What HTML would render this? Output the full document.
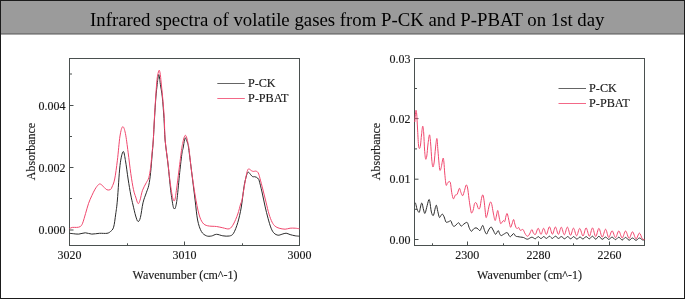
<!DOCTYPE html>
<html><head><meta charset="utf-8"><style>
html,body{margin:0;padding:0;background:#fff;}
body{width:685px;height:299px;overflow:hidden;position:relative;}
.frame{position:absolute;left:0;top:0;width:683px;height:297px;border:1px solid #1b1b1b;background:#fff;}
.hdr{position:absolute;left:0;top:0;width:683px;height:32px;background:#9b9b9b;border-bottom:1px solid #787878;box-shadow:0 1px 0 #a8a8a8;}
.hdr span{position:absolute;left:89.3px;top:2.8px;will-change:transform;font-family:"Liberation Serif", serif;font-size:18.8px;line-height:32px;color:#000;white-space:nowrap;}
svg{position:absolute;left:0;top:0;will-change:transform;}
svg text{font-family:"Liberation Serif", serif;font-size:12px;fill:#1a1a1a;stroke:#1a1a1a;stroke-width:0.15px;}
svg text.lg{font-size:12.2px;}
</style></head><body>
<div class="frame"><div class="hdr"><span>Infrared spectra of volatile gases from P-CK and P-PBAT on 1st day</span></div></div>
<svg width="685" height="299" viewBox="0 0 685 299">
<rect x="69.5" y="58.5" width="230.0" height="187.0" fill="none" stroke="#4a504f" stroke-width="1"/>
<line x1="69.5" y1="230" x2="73.5" y2="230" stroke="#4a504f" stroke-width="1"/>
<line x1="69.5" y1="167.5" x2="73.5" y2="167.5" stroke="#4a504f" stroke-width="1"/>
<line x1="69.5" y1="105.5" x2="73.5" y2="105.5" stroke="#4a504f" stroke-width="1"/>
<line x1="69.5" y1="198.5" x2="72.0" y2="198.5" stroke="#4a504f" stroke-width="1"/>
<line x1="69.5" y1="136.5" x2="72.0" y2="136.5" stroke="#4a504f" stroke-width="1"/>
<line x1="69.5" y1="74" x2="72.0" y2="74" stroke="#4a504f" stroke-width="1"/>
<line x1="69.5" y1="245.5" x2="69.5" y2="241.5" stroke="#4a504f" stroke-width="1"/>
<line x1="184.5" y1="245.5" x2="184.5" y2="241.5" stroke="#4a504f" stroke-width="1"/>
<line x1="299.5" y1="245.5" x2="299.5" y2="241.5" stroke="#4a504f" stroke-width="1"/>
<line x1="127.5" y1="245.5" x2="127.5" y2="243.3" stroke="#4a504f" stroke-width="1"/>
<line x1="242.5" y1="245.5" x2="242.5" y2="243.3" stroke="#4a504f" stroke-width="1"/>
<text x="65.5" y="234" text-anchor="end">0.000</text>
<text x="65.5" y="171.5" text-anchor="end">0.002</text>
<text x="65.5" y="109.5" text-anchor="end">0.004</text>
<text x="69.5" y="259.0" text-anchor="middle">3020</text>
<text x="184.5" y="259.0" text-anchor="middle">3010</text>
<text x="299.5" y="259.0" text-anchor="middle">3000</text>
<path d="M69.50 233.30 C70.13 233.37 71.75 233.57 73.30 233.70 C74.85 233.83 76.80 234.25 78.80 234.10 C80.80 233.95 83.13 232.80 85.30 232.80 C87.47 232.80 89.45 234.02 91.80 234.10 C94.15 234.18 96.87 233.43 99.40 233.30 C101.93 233.17 105.15 233.60 107.00 233.30 C108.85 233.00 109.40 232.52 110.50 231.50 C111.60 230.48 112.73 230.10 113.60 227.20 C114.47 224.30 115.07 218.63 115.70 214.10 C116.33 209.57 116.68 208.08 117.40 200.00 C118.12 191.92 119.05 173.67 120.00 165.60 C120.95 157.53 122.20 152.50 123.10 151.60 C124.00 150.70 124.57 155.63 125.40 160.20 C126.23 164.77 127.20 173.20 128.10 179.00 C129.00 184.80 129.98 190.67 130.80 195.00 C131.62 199.33 132.18 201.50 133.00 205.00 C133.82 208.50 134.87 213.25 135.70 216.00 C136.53 218.75 137.22 221.25 138.00 221.50 C138.78 221.75 139.57 220.62 140.40 217.50 C141.23 214.38 142.02 206.92 143.00 202.80 C143.98 198.68 145.33 195.73 146.30 192.80 C147.27 189.87 148.08 188.57 148.80 185.20 C149.52 181.83 150.05 177.63 150.60 172.60 C151.15 167.57 151.65 160.43 152.10 155.00 C152.55 149.57 152.90 146.08 153.30 140.00 C153.70 133.92 154.07 125.67 154.50 118.50 C154.93 111.33 155.45 102.67 155.90 97.00 C156.35 91.33 156.85 87.67 157.20 84.50 C157.55 81.33 157.73 79.67 158.00 78.00 C158.27 76.33 158.53 74.50 158.80 74.50 C159.07 74.50 159.33 76.33 159.60 78.00 C159.87 79.67 159.95 81.33 160.40 84.50 C160.85 87.67 161.70 91.33 162.30 97.00 C162.90 102.67 163.53 111.33 164.00 118.50 C164.47 125.67 164.42 132.25 165.10 140.00 C165.78 147.75 167.17 156.62 168.10 165.00 C169.03 173.38 169.85 183.37 170.70 190.30 C171.55 197.23 172.57 203.57 173.20 206.60 C173.83 209.63 174.12 208.35 174.50 208.50 C174.88 208.65 175.05 209.28 175.50 207.50 C175.95 205.72 176.50 203.62 177.20 197.80 C177.90 191.98 178.90 180.07 179.70 172.60 C180.50 165.13 181.45 156.98 182.00 153.00 C182.55 149.02 182.68 150.30 183.00 148.70 C183.32 147.10 183.63 144.93 183.90 143.40 C184.17 141.87 184.35 140.43 184.60 139.50 C184.85 138.57 185.07 137.63 185.40 137.80 C185.73 137.97 186.22 139.57 186.60 140.50 C186.98 141.43 187.35 142.03 187.70 143.40 C188.05 144.77 188.08 144.27 188.70 148.70 C189.32 153.13 190.33 161.45 191.40 170.00 C192.47 178.55 194.07 191.67 195.10 200.00 C196.13 208.33 196.55 214.75 197.60 220.00 C198.65 225.25 199.93 228.87 201.40 231.50 C202.87 234.13 204.72 235.05 206.40 235.80 C208.08 236.55 209.82 236.25 211.50 236.00 C213.18 235.75 214.62 234.33 216.50 234.30 C218.38 234.27 220.67 235.52 222.80 235.80 C224.93 236.08 227.52 236.42 229.30 236.00 C231.08 235.58 232.08 235.55 233.50 233.30 C234.92 231.05 236.50 226.88 237.80 222.50 C239.10 218.12 240.27 212.95 241.30 207.00 C242.33 201.05 243.22 191.73 244.00 186.80 C244.78 181.87 245.40 179.75 246.00 177.40 C246.60 175.05 247.15 173.55 247.60 172.70 C248.05 171.85 248.18 171.97 248.70 172.30 C249.22 172.63 250.03 173.97 250.70 174.70 C251.37 175.43 252.03 176.37 252.70 176.70 C253.37 177.03 254.03 176.58 254.70 176.70 C255.37 176.82 256.15 177.07 256.70 177.40 C257.25 177.73 257.62 178.27 258.00 178.70 C258.38 179.13 258.33 177.78 259.00 180.00 C259.67 182.22 261.00 187.65 262.00 192.00 C263.00 196.35 264.00 201.73 265.00 206.10 C266.00 210.47 266.98 214.52 268.00 218.20 C269.02 221.88 270.08 225.70 271.10 228.20 C272.12 230.70 272.93 232.03 274.10 233.20 C275.27 234.37 276.77 235.03 278.10 235.20 C279.43 235.37 280.77 234.53 282.10 234.20 C283.43 233.87 284.77 233.13 286.10 233.20 C287.43 233.27 288.58 234.17 290.10 234.60 C291.62 235.03 293.63 235.53 295.20 235.80 C296.77 236.07 298.78 236.13 299.50 236.20" fill="none" stroke="#2a2a2a" stroke-width="1"/>
<path d="M69.50 228.60 C69.97 228.40 71.12 227.60 72.30 227.40 C73.48 227.20 75.28 227.53 76.60 227.40 C77.92 227.27 79.20 227.30 80.20 226.60 C81.20 225.90 81.70 225.40 82.60 223.20 C83.50 221.00 84.60 216.72 85.60 213.40 C86.60 210.08 87.57 206.25 88.60 203.30 C89.63 200.35 90.72 198.07 91.80 195.70 C92.88 193.33 94.02 190.92 95.10 189.10 C96.18 187.28 97.40 185.63 98.30 184.80 C99.20 183.97 99.58 183.73 100.50 184.10 C101.42 184.47 102.72 186.05 103.80 187.00 C104.88 187.95 105.92 189.37 107.00 189.80 C108.08 190.23 109.47 190.07 110.30 189.60 C111.13 189.13 111.27 188.77 112.00 187.00 C112.73 185.23 113.80 183.47 114.70 179.00 C115.60 174.53 116.52 167.37 117.40 160.20 C118.28 153.03 119.12 141.58 120.00 136.00 C120.88 130.42 121.80 127.13 122.70 126.70 C123.60 126.27 124.50 129.15 125.40 133.40 C126.30 137.65 127.20 145.50 128.10 152.20 C129.00 158.90 129.90 167.35 130.80 173.60 C131.70 179.85 132.68 185.80 133.50 189.70 C134.32 193.60 134.95 194.70 135.70 197.00 C136.45 199.30 137.28 202.95 138.00 203.50 C138.72 204.05 139.25 202.50 140.00 200.30 C140.75 198.10 141.45 193.23 142.50 190.30 C143.55 187.37 145.25 184.80 146.30 182.70 C147.35 180.60 148.08 180.22 148.80 177.70 C149.52 175.18 150.05 171.78 150.60 167.60 C151.15 163.42 151.65 157.20 152.10 152.60 C152.55 148.00 152.92 145.68 153.30 140.00 C153.68 134.32 154.00 125.67 154.40 118.50 C154.80 111.33 155.30 103.08 155.70 97.00 C156.10 90.92 156.47 85.67 156.80 82.00 C157.13 78.33 157.30 76.97 157.70 75.00 C158.10 73.03 158.77 70.28 159.20 70.20 C159.63 70.12 159.98 72.53 160.30 74.50 C160.62 76.47 160.72 78.25 161.10 82.00 C161.48 85.75 162.07 90.92 162.60 97.00 C163.13 103.08 163.88 111.33 164.30 118.50 C164.72 125.67 164.55 133.08 165.10 140.00 C165.65 146.92 166.75 152.88 167.60 160.00 C168.45 167.12 169.35 176.40 170.20 182.70 C171.05 189.00 171.95 194.87 172.70 197.80 C173.45 200.73 174.08 201.55 174.70 200.30 C175.32 199.05 175.68 195.35 176.40 190.30 C177.12 185.25 178.12 176.93 179.00 170.00 C179.88 163.07 181.08 153.13 181.70 148.70 C182.32 144.27 182.32 145.22 182.70 143.40 C183.08 141.58 183.55 139.15 184.00 137.80 C184.45 136.45 184.93 135.27 185.40 135.30 C185.87 135.33 186.37 136.65 186.80 138.00 C187.23 139.35 187.63 141.62 188.00 143.40 C188.37 145.18 188.43 144.27 189.00 148.70 C189.57 153.13 190.38 162.28 191.40 170.00 C192.42 177.72 193.85 187.67 195.10 195.00 C196.35 202.33 197.63 209.37 198.90 214.00 C200.17 218.63 201.23 220.83 202.70 222.80 C204.17 224.77 205.40 225.18 207.70 225.80 C210.00 226.42 213.98 226.17 216.50 226.50 C219.02 226.83 220.67 227.42 222.80 227.80 C224.93 228.18 227.52 229.43 229.30 228.80 C231.08 228.17 232.08 226.47 233.50 224.00 C234.92 221.53 236.62 217.33 237.80 214.00 C238.98 210.67 239.90 206.33 240.60 204.00 C241.30 201.67 241.32 203.32 242.00 200.00 C242.68 196.68 243.92 188.53 244.70 184.10 C245.48 179.67 246.15 175.85 246.70 173.40 C247.25 170.95 247.55 170.12 248.00 169.40 C248.45 168.68 248.83 168.88 249.40 169.10 C249.97 169.32 250.73 170.32 251.40 170.70 C252.07 171.08 252.73 171.33 253.40 171.40 C254.07 171.47 254.73 171.03 255.40 171.10 C256.07 171.17 256.85 171.32 257.40 171.80 C257.95 172.28 258.27 172.88 258.70 174.00 C259.13 175.12 259.28 175.83 260.00 178.50 C260.72 181.17 262.00 186.07 263.00 190.00 C264.00 193.93 265.00 198.08 266.00 202.10 C267.00 206.12 267.98 210.75 269.00 214.10 C270.02 217.45 271.08 220.18 272.10 222.20 C273.12 224.22 273.93 225.20 275.10 226.20 C276.27 227.20 277.43 227.70 279.10 228.20 C280.77 228.70 283.27 229.20 285.10 229.20 C286.93 229.20 288.42 228.37 290.10 228.20 C291.78 228.03 293.63 228.10 295.20 228.20 C296.77 228.30 298.78 228.70 299.50 228.80" fill="none" stroke="#f0476d" stroke-width="1"/>
<line x1="217.3" y1="83.5" x2="244.8" y2="83.5" stroke="#2a2a2a" stroke-width="1" stroke-opacity="0.72"/><line x1="217.3" y1="98.5" x2="244.8" y2="98.5" stroke="#f0476d" stroke-width="1" stroke-opacity="0.82"/><text class="lg" x="247.9" y="86.9">P-CK</text><text class="lg" x="247.9" y="102.0">P-PBAT</text>
<text x="185" y="279" text-anchor="middle">Wavenumber (cm^-1)</text>
<text transform="translate(35.3 151.5) rotate(-90)" text-anchor="middle">Absorbance</text>
<rect x="414.5" y="58.5" width="230.0" height="187.0" fill="none" stroke="#4a504f" stroke-width="1"/>
<line x1="414.5" y1="239.5" x2="418.5" y2="239.5" stroke="#4a504f" stroke-width="1"/>
<line x1="414.5" y1="179.2" x2="418.5" y2="179.2" stroke="#4a504f" stroke-width="1"/>
<line x1="414.5" y1="118.6" x2="418.5" y2="118.6" stroke="#4a504f" stroke-width="1"/>
<line x1="414.5" y1="58.5" x2="418.5" y2="58.5" stroke="#4a504f" stroke-width="1"/>
<line x1="414.5" y1="209.3" x2="417.0" y2="209.3" stroke="#4a504f" stroke-width="1"/>
<line x1="414.5" y1="148.9" x2="417.0" y2="148.9" stroke="#4a504f" stroke-width="1"/>
<line x1="414.5" y1="88.5" x2="417.0" y2="88.5" stroke="#4a504f" stroke-width="1"/>
<line x1="467.5" y1="245.5" x2="467.5" y2="241.5" stroke="#4a504f" stroke-width="1"/>
<line x1="538.5" y1="245.5" x2="538.5" y2="241.5" stroke="#4a504f" stroke-width="1"/>
<line x1="609.5" y1="245.5" x2="609.5" y2="241.5" stroke="#4a504f" stroke-width="1"/>
<line x1="432.5" y1="245.5" x2="432.5" y2="243.3" stroke="#4a504f" stroke-width="1"/>
<line x1="503.5" y1="245.5" x2="503.5" y2="243.3" stroke="#4a504f" stroke-width="1"/>
<line x1="573.5" y1="245.5" x2="573.5" y2="243.3" stroke="#4a504f" stroke-width="1"/>
<text x="410.5" y="243.5" text-anchor="end">0.00</text>
<text x="410.5" y="183.2" text-anchor="end">0.01</text>
<text x="410.5" y="122.6" text-anchor="end">0.02</text>
<text x="410.5" y="62.5" text-anchor="end">0.03</text>
<text x="467.3" y="259.0" text-anchor="middle">2300</text>
<text x="538.5" y="259.0" text-anchor="middle">2280</text>
<text x="609.5" y="259.0" text-anchor="middle">2260</text>
<path d="M414.80 203.00 C414.93 203.07 415.25 202.45 415.60 203.40 C415.95 204.35 416.47 207.35 416.90 208.70 C417.33 210.05 417.78 210.93 418.20 211.50 C418.62 212.07 419.02 212.85 419.40 212.10 C419.78 211.35 420.17 208.45 420.50 207.00 C420.83 205.55 421.10 203.90 421.40 203.40 C421.70 202.90 421.93 202.88 422.30 204.00 C422.67 205.12 423.15 208.53 423.60 210.10 C424.05 211.67 424.48 213.85 425.00 213.40 C425.52 212.95 426.08 209.63 426.70 207.40 C427.32 205.17 428.18 201.00 428.70 200.00 C429.22 199.00 429.35 199.38 429.80 201.40 C430.25 203.42 430.80 209.77 431.40 212.10 C432.00 214.43 432.73 216.18 433.40 215.40 C434.07 214.62 434.88 209.07 435.40 207.40 C435.92 205.73 436.10 204.73 436.50 205.40 C436.90 206.07 437.32 209.40 437.80 211.40 C438.28 213.40 438.87 216.72 439.40 217.40 C439.93 218.08 440.50 216.05 441.00 215.50 C441.50 214.95 441.88 213.88 442.40 214.10 C442.92 214.32 443.52 215.50 444.10 216.80 C444.68 218.10 445.33 221.02 445.90 221.90 C446.47 222.78 446.97 222.17 447.50 222.10 C448.03 222.03 448.55 221.72 449.10 221.50 C449.65 221.28 450.18 220.13 450.80 220.80 C451.42 221.47 452.13 224.62 452.80 225.50 C453.47 226.38 454.13 226.33 454.80 226.10 C455.47 225.87 456.13 224.65 456.80 224.10 C457.47 223.55 458.08 222.47 458.80 222.80 C459.52 223.13 460.27 225.88 461.10 226.10 C461.93 226.32 462.90 224.72 463.80 224.10 C464.70 223.48 465.83 222.50 466.50 222.40 C467.17 222.30 467.30 222.48 467.80 223.50 C468.30 224.52 468.88 227.20 469.50 228.50 C470.12 229.80 470.83 231.22 471.50 231.30 C472.17 231.38 472.75 229.58 473.50 229.00 C474.25 228.42 475.25 227.80 476.00 227.80 C476.75 227.80 477.33 228.53 478.00 229.00 C478.67 229.47 479.42 230.85 480.00 230.60 C480.58 230.35 481.02 228.35 481.50 227.50 C481.98 226.65 482.38 224.98 482.90 225.50 C483.42 226.02 483.98 229.18 484.60 230.60 C485.22 232.02 485.93 234.10 486.60 234.00 C487.27 233.90 487.85 231.17 488.60 230.00 C489.35 228.83 490.35 227.00 491.10 227.00 C491.85 227.00 492.35 228.78 493.10 230.00 C493.85 231.22 494.77 234.20 495.60 234.30 C496.43 234.40 497.43 230.72 498.10 230.60 C498.77 230.48 499.10 232.77 499.60 233.60 C500.10 234.43 500.43 235.48 501.10 235.60 C501.77 235.72 502.60 234.80 503.60 234.30 C504.60 233.80 506.18 232.38 507.10 232.60 C508.02 232.82 508.52 234.93 509.10 235.60 C509.68 236.27 509.85 236.93 510.60 236.60 C511.35 236.27 512.77 233.68 513.60 233.60 C514.43 233.52 514.92 235.60 515.60 236.10 C516.28 236.60 516.85 236.43 517.70 236.60 C518.55 236.77 519.73 236.95 520.70 237.10 C521.67 237.25 522.38 237.15 523.50 237.50 C524.62 237.85 526.02 239.25 527.40 239.20 C528.78 239.15 530.48 237.27 531.80 237.20 C533.12 237.13 534.23 238.90 535.30 238.80 C536.37 238.70 537.25 236.63 538.20 236.60 C539.15 236.57 540.10 238.60 541.00 238.60 C541.90 238.60 542.67 236.63 543.60 236.60 C544.53 236.57 545.63 238.47 546.60 238.40 C547.57 238.33 548.43 236.20 549.40 236.20 C550.37 236.20 551.40 238.40 552.40 238.40 C553.40 238.40 554.38 236.20 555.40 236.20 C556.42 236.20 557.50 238.33 558.50 238.40 C559.50 238.47 560.38 236.53 561.40 236.60 C562.42 236.67 563.57 238.80 564.60 238.80 C565.63 238.80 566.58 236.60 567.60 236.60 C568.62 236.60 569.68 238.80 570.70 238.80 C571.72 238.80 572.67 236.53 573.70 236.60 C574.73 236.67 575.87 239.13 576.90 239.20 C577.93 239.27 578.88 237.03 579.90 237.00 C580.92 236.97 581.97 239.07 583.00 239.00 C584.03 238.93 585.03 236.63 586.10 236.60 C587.17 236.57 588.33 238.87 589.40 238.80 C590.47 238.73 591.45 236.13 592.50 236.20 C593.55 236.27 594.63 239.18 595.70 239.20 C596.77 239.22 597.82 236.28 598.90 236.30 C599.98 236.32 601.08 239.17 602.20 239.30 C603.32 239.43 604.52 237.08 605.60 237.10 C606.68 237.12 607.62 239.40 608.70 239.40 C609.78 239.40 610.97 237.07 612.10 237.10 C613.23 237.13 614.38 239.58 615.50 239.60 C616.62 239.62 617.68 237.13 618.80 237.20 C619.92 237.27 621.07 239.97 622.20 240.00 C623.33 240.03 624.45 237.37 625.60 237.40 C626.75 237.43 627.95 240.10 629.10 240.20 C630.25 240.30 631.35 237.98 632.50 238.00 C633.65 238.02 634.85 240.30 636.00 240.30 C637.15 240.30 638.32 238.07 639.40 238.00 C640.48 237.93 641.65 239.60 642.50 239.90 C643.35 240.20 644.17 239.82 644.50 239.80" fill="none" stroke="#2a2a2a" stroke-width="1"/>
<path d="M414.80 122.00 C414.97 120.12 415.48 112.03 415.80 110.70 C416.12 109.37 416.42 111.12 416.70 114.00 C416.98 116.88 417.20 122.83 417.50 128.00 C417.80 133.17 418.17 141.58 418.50 145.00 C418.83 148.42 419.17 148.50 419.50 148.50 C419.83 148.50 420.17 147.25 420.50 145.00 C420.83 142.75 421.13 138.13 421.50 135.00 C421.87 131.87 422.33 126.53 422.70 126.20 C423.07 125.87 423.38 129.03 423.70 133.00 C424.02 136.97 424.28 145.67 424.60 150.00 C424.92 154.33 425.23 158.00 425.60 159.00 C425.97 160.00 426.40 158.50 426.80 156.00 C427.20 153.50 427.55 147.53 428.00 144.00 C428.45 140.47 429.07 134.97 429.50 134.80 C429.93 134.63 430.22 138.80 430.60 143.00 C430.98 147.20 431.42 156.00 431.80 160.00 C432.18 164.00 432.50 166.67 432.90 167.00 C433.30 167.33 433.77 165.17 434.20 162.00 C434.63 158.83 435.05 151.92 435.50 148.00 C435.95 144.08 436.50 138.17 436.90 138.50 C437.30 138.83 437.55 145.92 437.90 150.00 C438.25 154.08 438.67 159.62 439.00 163.00 C439.33 166.38 439.53 169.55 439.90 170.30 C440.27 171.05 440.68 169.50 441.20 167.50 C441.72 165.50 442.55 159.22 443.00 158.30 C443.45 157.38 443.60 159.38 443.90 162.00 C444.20 164.62 444.43 170.17 444.80 174.00 C445.17 177.83 445.67 183.47 446.10 185.00 C446.53 186.53 446.93 183.75 447.40 183.20 C447.87 182.65 448.40 181.77 448.90 181.70 C449.40 181.63 449.93 181.02 450.40 182.80 C450.87 184.58 451.20 189.73 451.70 192.40 C452.20 195.07 452.80 198.35 453.40 198.80 C454.00 199.25 454.67 195.87 455.30 195.10 C455.93 194.33 456.52 195.33 457.20 194.20 C457.88 193.07 458.78 188.60 459.40 188.30 C460.02 188.00 460.35 191.17 460.90 192.40 C461.45 193.63 462.10 196.02 462.70 195.70 C463.30 195.38 463.92 192.28 464.50 190.50 C465.08 188.72 465.68 185.42 466.20 185.00 C466.72 184.58 467.15 185.83 467.60 188.00 C468.05 190.17 468.47 194.83 468.90 198.00 C469.33 201.17 469.77 204.50 470.20 207.00 C470.63 209.50 471.00 212.50 471.50 213.00 C472.00 213.50 472.68 211.58 473.20 210.00 C473.72 208.42 474.07 204.65 474.60 203.50 C475.13 202.35 475.78 202.27 476.40 203.10 C477.02 203.93 477.72 207.72 478.30 208.50 C478.88 209.28 479.37 209.48 479.90 207.80 C480.43 206.12 481.00 200.55 481.50 198.40 C482.00 196.25 482.47 194.50 482.90 194.90 C483.33 195.30 483.73 198.28 484.10 200.80 C484.47 203.32 484.78 207.22 485.10 210.00 C485.42 212.78 485.62 216.83 486.00 217.50 C486.38 218.17 486.85 216.08 487.40 214.00 C487.95 211.92 488.77 207.00 489.30 205.00 C489.83 203.00 490.18 202.08 490.60 202.00 C491.02 201.92 491.35 202.67 491.80 204.50 C492.25 206.33 492.75 210.33 493.30 213.00 C493.85 215.67 494.55 220.17 495.10 220.50 C495.65 220.83 496.15 216.67 496.60 215.00 C497.05 213.33 497.35 210.00 497.80 210.50 C498.25 211.00 498.83 215.83 499.30 218.00 C499.77 220.17 500.12 222.83 500.60 223.50 C501.08 224.17 501.70 222.50 502.20 222.00 C502.70 221.50 503.17 220.58 503.60 220.50 C504.03 220.42 504.40 222.25 504.80 221.50 C505.20 220.75 505.62 217.33 506.00 216.00 C506.38 214.67 506.72 213.25 507.10 213.50 C507.48 213.75 507.92 215.92 508.30 217.50 C508.68 219.08 509.02 221.37 509.40 223.00 C509.78 224.63 510.17 227.13 510.60 227.30 C511.03 227.47 511.50 225.30 512.00 224.00 C512.50 222.70 513.13 219.50 513.60 219.50 C514.07 219.50 514.40 222.67 514.80 224.00 C515.20 225.33 515.60 226.75 516.00 227.50 C516.40 228.25 516.75 228.50 517.20 228.50 C517.65 228.50 518.23 227.22 518.70 227.50 C519.17 227.78 519.55 229.78 520.00 230.20 C520.45 230.62 520.88 230.10 521.40 230.00 C521.92 229.90 522.53 229.08 523.10 229.60 C523.67 230.12 524.25 232.10 524.80 233.10 C525.35 234.10 525.88 235.08 526.40 235.60 C526.92 236.12 527.37 236.47 527.90 236.20 C528.43 235.93 528.95 235.10 529.60 234.00 C530.25 232.90 531.17 229.77 531.80 229.60 C532.43 229.43 532.78 232.20 533.40 233.00 C534.02 233.80 534.70 235.18 535.50 234.40 C536.30 233.62 537.28 228.30 538.20 228.30 C539.12 228.30 540.10 234.40 541.00 234.40 C541.90 234.40 542.70 228.30 543.60 228.30 C544.50 228.30 545.43 234.65 546.40 234.40 C547.37 234.15 548.40 226.83 549.40 226.80 C550.40 226.77 551.40 234.17 552.40 234.20 C553.40 234.23 554.40 226.97 555.40 227.00 C556.40 227.03 557.42 234.37 558.40 234.40 C559.38 234.43 560.32 227.13 561.30 227.20 C562.28 227.27 563.28 234.82 564.30 234.80 C565.32 234.78 566.37 227.02 567.40 227.10 C568.43 227.18 569.48 235.13 570.50 235.30 C571.52 235.47 572.48 228.02 573.50 228.10 C574.52 228.18 575.57 235.75 576.60 235.80 C577.63 235.85 578.63 228.37 579.70 228.40 C580.77 228.43 581.93 236.08 583.00 236.00 C584.07 235.92 585.03 227.87 586.10 227.90 C587.17 227.93 588.33 236.20 589.40 236.20 C590.47 236.20 591.45 227.83 592.50 227.90 C593.55 227.97 594.63 236.53 595.70 236.60 C596.77 236.67 597.82 228.22 598.90 228.30 C599.98 228.38 601.08 236.95 602.20 237.10 C603.32 237.25 604.52 229.13 605.60 229.20 C606.68 229.27 607.62 237.23 608.70 237.50 C609.78 237.77 610.97 230.78 612.10 230.80 C613.23 230.82 614.38 237.57 615.50 237.60 C616.62 237.63 617.68 230.93 618.80 231.00 C619.92 231.07 621.07 238.00 622.20 238.00 C623.33 238.00 624.45 230.93 625.60 231.00 C626.75 231.07 627.95 238.27 629.10 238.40 C630.25 238.53 631.35 231.73 632.50 231.80 C633.65 231.87 634.85 238.58 636.00 238.80 C637.15 239.02 638.37 233.13 639.40 233.10 C640.43 233.07 641.35 237.52 642.20 238.60 C643.05 239.68 644.12 239.43 644.50 239.60" fill="none" stroke="#f0476d" stroke-width="1"/>
<line x1="558.5" y1="88.5" x2="586.0" y2="88.5" stroke="#2a2a2a" stroke-width="1" stroke-opacity="0.72"/><line x1="558.5" y1="103.5" x2="586.0" y2="103.5" stroke="#f0476d" stroke-width="1" stroke-opacity="0.82"/><text class="lg" x="589.1" y="92.30000000000001">P-CK</text><text class="lg" x="589.1" y="107.4">P-PBAT</text>
<text x="529.5" y="279" text-anchor="middle">Wavenumber (cm^-1)</text>
<text transform="translate(380.3 151.5) rotate(-90)" text-anchor="middle">Absorbance</text>
</svg>
</body></html>
